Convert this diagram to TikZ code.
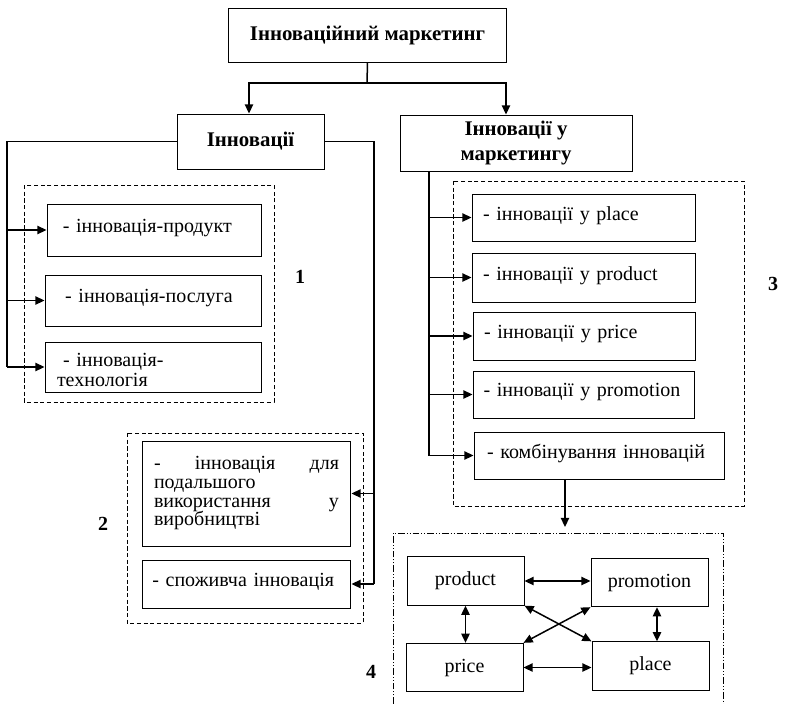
\documentclass[tikz,border=0pt]{standalone}
\usepackage{fontspec}
\setmainfont{Liberation Serif}
\usetikzlibrary{arrows.meta}

\begin{document}
\begin{tikzpicture}[x=0.6pt, y=-0.6pt,
  box/.style = {draw, line width=0.6pt, inner sep=0pt, font=\fontsize{12}{11.2}\selectfont},
  head/.style = {box, font=\bfseries\fontsize{12.5}{15}\selectfont, align=center},
  item/.style = {box, align=left, text depth=5pt},
  mix/.style = {box, minimum width=70.2pt, minimum height=29pt},
  arr/.style = {-{Triangle[length=5.5pt,width=5pt]}, line width=0.9pt},
  dbl/.style = {{Triangle[length=5.5pt,width=5pt]}-{Triangle[length=5.5pt,width=5pt]}, line width=0.9pt},
  group/.style = {line width=0.6pt, dash pattern=on 2.5pt off 1.5pt},
  tag/.style = {font=\bfseries\fontsize{12}{14}\selectfont}]
  \useasboundingbox (0,0) rectangle (785,704);

  % headings
  \node[head, minimum width=167.4pt, minimum height=32.4pt] (top) at (367.5,35) {Інноваційний маркетинг};
  \node[head, minimum width=88.2pt, minimum height=33pt] (inn) at (250.5,141.5) {Інновації};
  \node[head, minimum width=139.2pt, minimum height=33.6pt] (mkt) at (516,143) {Інновації у\\маркетингу};

  % group 1
  \draw[group] (24,185) rectangle (274,402);
  \node[item, text width=110pt, minimum width=129pt, minimum height=31.2pt] (prod) at (154.5,230) {- інновація-продукт};
  \node[item, text width=106pt, minimum width=130.2pt, minimum height=30.6pt] (serv) at (153.5,300.5) {- інновація-послуга};
  \node[item, text width=115.8pt, minimum width=130.2pt, minimum height=30pt, text depth=9pt, font=\fontsize{12}{12}\selectfont] (tech) at (153.5,367) {\hspace*{3.6pt}- інновація-\\технологія};
  \node[tag] (n1) at (300,277) {1};

  % group 2
  \draw[group] (127,433) rectangle (363,623);
  \node[box, align=left, text width=111pt, minimum width=125.4pt, minimum height=63pt] (use) at (246.5,493.5)
    {-\hfill інновація\hfill для\\подальшого\\використання\hfill у\\виробництві};
  \node[item, text width=113pt, minimum width=125.4pt, minimum height=28.8pt] (cons) at (246.5,584) {- споживча інновація};
  \node[tag] (n2) at (103,524) {2};

  % group 3
  \draw[group] (453,181) rectangle (744,506);
  \node[item, text width=120.6pt, minimum width=133.8pt, minimum height=28.2pt] (mplace) at (583.5,217.5) {- інновації у place};
  \node[item, text width=120.6pt, minimum width=133.8pt, minimum height=29.4pt] (mprod) at (583.5,277.5) {- інновації у product};
  \node[item, text width=120pt, minimum width=133.2pt, minimum height=28.8pt] (mprice) at (584,336) {- інновації у price};
  \node[item, text width=120pt, minimum width=132.6pt, minimum height=28.2pt] (mpromo) at (583.5,394.5) {- інновації у promotion};
  \node[item, text width=134.4pt, minimum width=150pt, minimum height=28.2pt] (comb) at (599,455.5) {- комбінування інновацій};
  \node[tag] (n3) at (773,284) {3};

  % group 4
  \draw[line width=0.6pt, dash pattern=on 4pt off 1.2pt on 0.6pt off 1.2pt on 0.6pt off 1.2pt]
    (393,704) -- (393,533) -- (723,533) -- (723,704);
  \node[mix] (p) at (465.5,581) {product};
  \node[mix] (pr) at (649.5,582.5) {promotion};
  \node[mix] (pc) at (464.5,667.5) {price};
  \node[mix] (pl) at (650.5,666) {place};
  \node[tag] (n4) at (371,672) {4};

  % connectors
  \coordinate (split) at (367,83);
  \draw[line width=0.9pt] (top.south) -- (split);
  \draw[arr] (split) -| ([xshift=-0.9pt]inn.north);
  \draw[arr] (split) -| ([xshift=-6pt]mkt.north);

  \coordinate (lbus) at (7,0);
  \draw[line width=0.9pt] (inn.west) -| (lbus |- tech.west);
  \foreach \n in {prod,serv,tech}
    \draw[arr] (lbus |- \n.west) -- (\n.west);

  \coordinate (rbus) at (374,0);
  \draw[line width=0.9pt] (inn.east) -| (rbus |- cons.east);
  \foreach \n in {use,cons}
    \draw[arr] (rbus |- \n.east) -- (\n.east);

  \coordinate (mbus) at (429,0);
  \draw[line width=0.9pt] (mbus |- mkt.south) -- (mbus |- comb.west);
  \foreach \n in {mplace,mprod,mprice,mpromo,comb}
    \draw[arr] (mbus |- \n.west) -- (\n.west);

  \coordinate (cdown) at (565,527);
  \draw[arr] (cdown |- comb.south) -- (cdown);

  \draw[dbl] (p.east) -- (p.east -| pr.west);
  \draw[dbl] (pc.east) -- (pc.east -| pl.west);
  \draw[dbl] (p.south) -- (p.south |- pc.north);
  \draw[dbl] ([xshift=4.5pt]pr.south) -- ([xshift=4.5pt]pr.south |- pl.north);
  \draw[dbl] (p.south east) -- (pl.north west);
  \draw[dbl] (pr.south west) -- (pc.north east);
\end{tikzpicture}
\end{document}
